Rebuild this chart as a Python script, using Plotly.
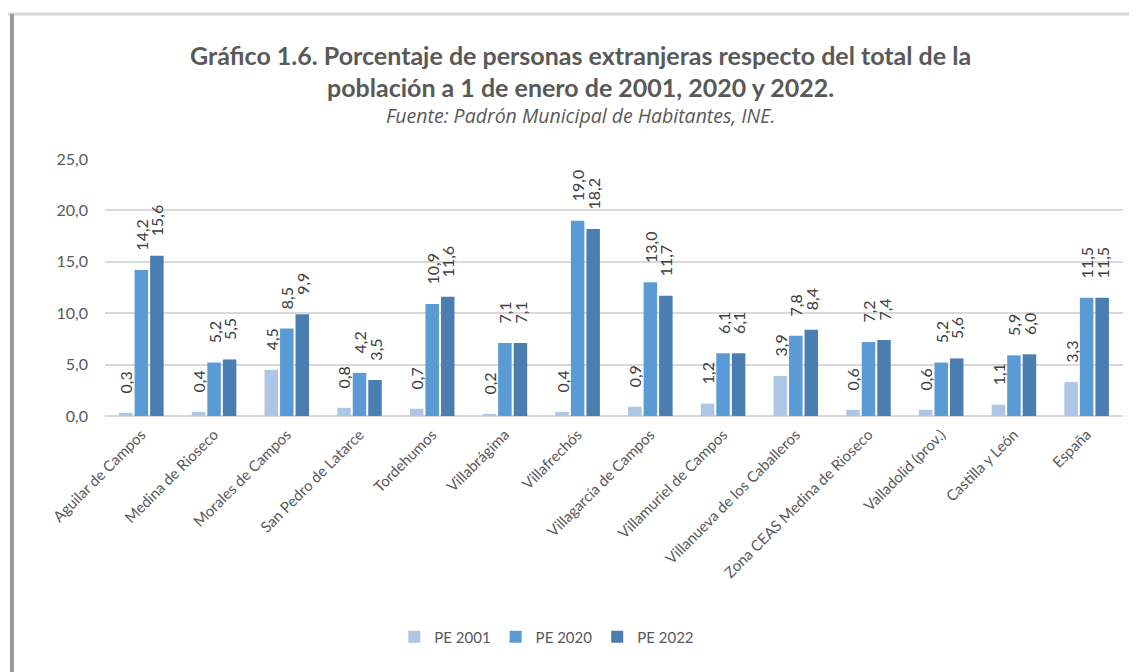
import plotly.graph_objects as go

categories = ["Aguilar de Campos", "Medina de Rioseco", "Morales de Campos", "San Pedro de Latarce",
              "Tordehumos", "Villabrágima", "Villafrechós", "Villagarcía de Campos",
              "Villamuriel de Campos", "Villanueva de los Caballeros", "Zona CEAS Medina de Rioseco",
              "Valladolid (prov.)", "Castilla y León", "España"]
pe2001 = [0.3, 0.4, 4.5, 0.8, 0.7, 0.2, 0.4, 0.9, 1.2, 3.9, 0.6, 0.6, 1.1, 3.3]
pe2020 = [14.2, 5.2, 8.5, 4.2, 10.9, 7.1, 19.0, 13.0, 6.1, 7.8, 7.2, 5.2, 5.9, 11.5]
pe2022 = [15.6, 5.5, 9.9, 3.5, 11.6, 7.1, 18.2, 11.7, 6.1, 8.4, 7.4, 5.6, 6.0, 11.5]
series_names = ["PE 2001", "PE 2020", "PE 2022"]
colors = ["#adc6e6", "#5b9bd5", "#4a7eb0"]

FONT = "Lato, 'Open Sans', sans-serif"
PAD = "\u00a0" * 4
fig = go.Figure()
for name, vals, col in zip(series_names, [pe2001, pe2020, pe2022], colors):
    fig.add_trace(go.Bar(
        x=categories, y=vals, name=name, marker=dict(color=col, line=dict(width=0)),
        texttemplate=PAD + "%{y:.1f}", textposition="outside", textangle=-90,
        constraintext="none",
        textfont=dict(size=16, color="#404040", family=FONT),
        cliponaxis=False,
    ))

fig.update_layout(
    width=1129, height=664,
    margin=dict(l=97, r=14, t=151, b=256),
    paper_bgcolor="white", plot_bgcolor="white",
    separators=",.",
    barmode="group", bargap=0.36, bargroupgap=0.13,
    font=dict(family=FONT, color="#595959"),
    showlegend=True,
    legend=dict(orientation="h", x=0.434, xanchor="center", y=-0.86, yanchor="middle",
                font=dict(size=15, color="#595959"), itemwidth=30),
)
fig.update_yaxes(range=[0, 25], dtick=5, tickformat=".1f", showgrid=True,
                 gridcolor="#d9d9d9", gridwidth=2, zeroline=True, zerolinecolor="#d9d9d9",
                 zerolinewidth=2, tickfont=dict(size=16, color="#595959"), ticks="",
                 ticklabelstandoff=16)
fig.update_xaxes(tickangle=-45, tickfont=dict(size=15, color="#595959"), showline=False,
                 ticks="", ticklabelstandoff=6)

fig.add_annotation(xref="paper", yref="paper", x=0.467, y=1.405, yanchor="middle", showarrow=False,
                   text="<b>Gráfico 1.6. Porcentaje de personas extranjeras respecto del total de la</b>",
                   font=dict(size=25, color="#595959", family=FONT))
fig.add_annotation(xref="paper", yref="paper", x=0.467, y=1.28, yanchor="middle", showarrow=False,
                   text="<b>población a 1 de enero de 2001, 2020 y 2022.</b>",
                   font=dict(size=25, color="#595959", family=FONT))
fig.add_annotation(xref="paper", yref="paper", x=0.467, y=1.168, yanchor="middle", showarrow=False,
                   text="<i>Fuente: Padrón Municipal de Habitantes, INE.</i>",
                   font=dict(size=19.5, color="#595959", family="'Open Sans', sans-serif"))

# frame shadow lines
fig.add_shape(type="line", xref="paper", yref="paper", x0=-0.095, x1=1.03, y0=1.564, y1=1.564,
              line=dict(color="#d6d6d6", width=3))
fig.add_shape(type="line", xref="paper", yref="paper", x0=-0.0914, x1=-0.0914, y0=1.564, y1=-1.05,
              line=dict(color="#9a9a9a", width=4))

fig.write_html("out.html")
